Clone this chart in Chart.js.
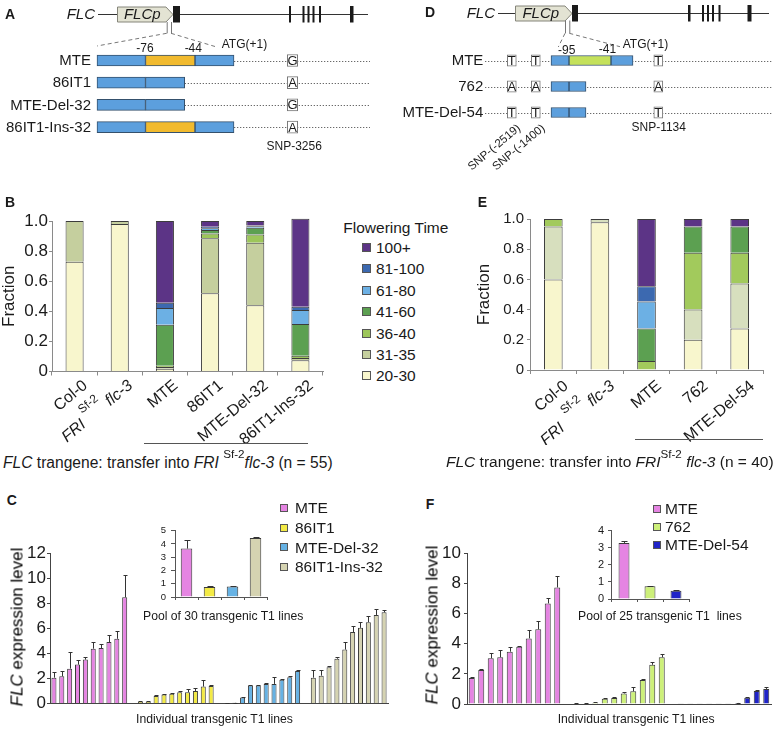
<!DOCTYPE html>
<html>
<head>
<meta charset="utf-8">
<script src="https://cdn.jsdelivr.net/npm/chart.js@4.4.1/dist/chart.umd.min.js"></script>
<style>
  html, body { margin:0; padding:0; background:#fff; }
  body { position:relative; width:777px; height:742px; overflow:hidden; font-family:"Liberation Sans", Arial, Helvetica, sans-serif; color:#1a1a1a; }
  canvas { position:absolute; }
  .t { position:absolute; white-space:nowrap; line-height:1; }
  .t sup { font-size:0.75em; vertical-align:baseline; position:relative; }
</style>
</head>
<body>
<canvas id="cvA" width="390" height="155" style="left:0;top:0"></canvas>
<canvas id="cvD" width="392" height="180" style="left:385px;top:0"></canvas>
<canvas id="cvB" width="336" height="250" style="left:0;top:195px"></canvas>
<canvas id="cvE" width="307" height="250" style="left:470px;top:195px"></canvas>
<canvas id="cvC" width="390" height="180" style="left:0;top:540px"></canvas>
<canvas id="cvCi" width="135" height="90" style="left:140px;top:520px"></canvas>
<canvas id="cvF" width="347" height="180" style="left:430px;top:540px"></canvas>
<canvas id="cvFi" width="125" height="90" style="left:575px;top:520px"></canvas>
<script>
const FAM = '"Liberation Sans", Arial, Helvetica, sans-serif';
const INK = '#1a1a1a';

/* ---------------- Panel A: constructs (schematic units) ---------------- */
const constructsA = ['MTE', '86IT1', 'MTE-Del-32', '86IT1-Ins-32'];
const segUpA   = [[97, 145.5], [97, 145.5], [97, 145.5], [97, 145.5]];
const segMidA  = [[145.5, 195], [145.5, 184.7], [145.5, 184.7], [145.5, 195]];
const midIsMteA = [true, false, false, true];
const segDownA = [[195, 234], null, null, [195, 234]];
const snp3256A = ['G', 'A', 'G', 'A'];
const snpPosA = [292.5];

/* ---------------- Panel D: constructs (schematic units) ---------------- */
const constructsD = ['MTE', '762', 'MTE-Del-54'];
const segUpD   = [[551, 569], [551, 569], [551, 569]];
const segMidD  = [[569, 611], [569, 586], [569, 586]];
const midIsMteD = [true, false, false];
const segDownD = [[611, 633], null, null];
const snpM2519D = ['T', 'A', 'T'];
const snpM1400D = ['T', 'A', 'T'];
const snp1134D  = ['T', 'A', 'T'];
const snpPosD = [511.8, 535.8, 658.3];

/* ---------------- Panel B: flowering time fractions ---------------- */
const ftClasses = ['20-30', '31-35', '36-40', '41-60', '61-80', '81-100', '100+'];
const categoriesB = ['Col-0', 'FRI Sf-2 flc-3', 'MTE', '86IT1', 'MTE-Del-32', '86IT1-Ins-32'];
const ft20_30B  = [0.73, 0.98, 0.018, 0.52, 0.44, 0.075];
const ft31_35B  = [0.27, 0.02, 0.012, 0.366, 0.415, 0.015];
const ft36_40B  = [0, 0, 0.009, 0.031, 0.055, 0.014];
const ft41_60B  = [0, 0, 0.272, 0.024, 0.045, 0.211];
const ft61_80B  = [0, 0, 0.111, 0.011, 0.01, 0.093];
const ft81_100B = [0, 0, 0.034, 0.009, 0.005, 0.022];
const ft100B    = [0, 0, 0.544, 0.039, 0.03, 0.585];

/* ---------------- Panel E: flowering time fractions ---------------- */
const categoriesE = ['Col-0', 'FRI Sf-2 flc-3', 'MTE', '762', 'MTE-Del-54'];
const ft20_30E  = [0.60, 0.978, 0, 0.20, 0.275];
const ft31_35E  = [0.35, 0.022, 0, 0.20, 0.298];
const ft36_40E  = [0.05, 0, 0.059, 0.377, 0.204];
const ft41_60E  = [0, 0, 0.216, 0.174, 0.174];
const ft61_80E  = [0, 0, 0.178, 0, 0];
const ft81_100E = [0, 0, 0.102, 0, 0];
const ft100E    = [0, 0, 0.445, 0.049, 0.049];

/* ---------------- Panel C: FLC expression ---------------- */
const seriesC = ['MTE', '86IT1', 'MTE-Del-32', '86IT1-Ins-32'];
const mteC    = [2.06, 2.17, 2.78, 3.1, 3.5, 4.37, 4.42, 4.9, 5.16, 8.47];
const mteErrC = [0.45, 0.45, 1.3, 0.4, 0.2, 0.5, 0.3, 0.55, 0.65, 1.75];
const it86C    = [0.13, 0.13, 0.6, 0.71, 0.77, 0.9, 0.9, 1.0, 1.35, 1.4];
const it86ErrC = [0.03, 0.03, 0.05, 0.05, 0.05, 0.08, 0.28, 0.2, 0.5, 0.1];
const del32C    = [0.02, 0.05, 0.48, 1.43, 1.43, 1.56, 1.56, 1.9, 2.1, 2.6];
const del32ErrC = [0.01, 0.02, 0.05, 0.05, 0.05, 0.05, 0.55, 0.08, 0.08, 0.1];
const ins32C    = [2.06, 2.22, 2.9, 3.57, 4.3, 5.7, 6.03, 6.48, 7.06, 7.27];
const ins32ErrC = [0.65, 0.42, 0.1, 0.1, 0.6, 0.45, 0.45, 0.48, 0.48, 0.2];
const poolC    = [3.65, 0.75, 0.8, 4.45];
const poolErrC = [0.65, 0.05, 0.03, 0.1];

/* ---------------- Panel F: FLC expression ---------------- */
const seriesF = ['MTE', '762', 'MTE-Del-54'];
const mteF    = [1.72, 2.25, 3.03, 3.1, 3.47, 3.8, 4.35, 4.95, 6.67, 7.73];
const mteErrF = [0.04, 0.04, 0.37, 0.48, 0.29, 0.07, 0.55, 0.57, 0.33, 0.77];
const l762F    = [0.04, 0.04, 0.09, 0.35, 0.4, 0.7, 0.84, 1.59, 2.6, 3.1];
const l762ErrF = [0.01, 0.01, 0.02, 0.03, 0.04, 0.1, 0.31, 0.07, 0.16, 0.2];
const del54F    = [0.02, 0.02, 0.02, 0.02, 0.02, 0.02, 0.07, 0.42, 0.86, 1.0];
const del54ErrF = [0, 0, 0, 0, 0, 0, 0.01, 0.03, 0.04, 0.1];
const poolF    = [3.28, 0.75, 0.48];
const poolErrF = [0.12, 0.04, 0.02];

/* ---------------- colours ---------------- */
const BLUE = '#5c9fdd', ORANGE = '#f1ba2e', LIME = '#c4e15b', EDGE = '#34506c';
const ftColorsB = ['#f8f6cd', '#c5cf9e', '#9dc65a', '#5ca051', '#6cb0e4', '#3c69b0', '#5c3486'];
const ftColorsE = ['#f8f6cd', '#d7dfbe', '#a2ca5c', '#5ca051', '#6cb0e4', '#3c69b0', '#5c3486'];
const colorsC = ['#e584e2', '#f3ea45', '#66b2e4', '#d5d3b1'];
const colorsF = ['#e584e2', '#cdf07a', '#2024c8'];

Chart.defaults.font.family = FAM;
Chart.defaults.color = INK;
const common = { responsive: false, animation: false, devicePixelRatio: 1, events: [] };

/* ---------------- helpers ---------------- */
function drawRich(ctx, parts, x, y, angDeg, size) {
  ctx.save();
  ctx.translate(x, y);
  ctx.rotate(angDeg * Math.PI / 180);
  ctx.fillStyle = INK;
  ctx.textBaseline = 'alphabetic';
  ctx.textAlign = 'left';
  const fonts = parts.map(p => (p.it ? 'italic ' : '') + (p.sup ? size * 0.75 : size) + 'px ' + FAM);
  const widths = parts.map((p, k) => { ctx.font = fonts[k]; return ctx.measureText(p.t).width; });
  let cx = -widths.reduce((a, b) => a + b, 0);
  parts.forEach((p, k) => {
    ctx.font = fonts[k];
    ctx.fillText(p.t, cx, p.sup ? -size * 0.42 : size * 0.36);
    cx += widths[k];
  });
  ctx.restore();
}

function labelParts(lab, gap) {
  if (lab.startsWith('FRI')) {
    const w = lab.split(' ');
    return [{ t: w[0], it: true }, { t: gap }, { t: w[1], sup: true }, { t: ' ' }, { t: w[2], it: true }];
  }
  return [{ t: lab }];
}

function richTicks(dx, dy, gap) {
  return {
    id: 'richTicks',
    afterDraw(chart) {
      const xs = chart.scales.x, ys = chart.scales.y;
      chart.data.labels.forEach((lab, i) => {
        drawRich(chart.ctx, labelParts(lab, gap), xs.getPixelForValue(i) + dx, ys.bottom + dy, -40, 16);
      });
    }
  };
}

function errorBars(cap) {
  return {
    id: 'errorBars',
    afterDatasetsDraw(chart) {
      const ctx = chart.ctx, ys = chart.scales.y;
      ctx.save();
      ctx.strokeStyle = '#333';
      ctx.lineWidth = 1;
      chart.data.datasets.forEach((ds, i) => {
        if (!ds.errors) return;
        chart.getDatasetMeta(i).data.forEach((el, j) => {
          const v = ds.data[j], e = ds.errors[j];
          if (v == null || e == null || e <= 0) return;
          const yT = Math.round(ys.getPixelForValue(v + e)) + 0.5;
          const xc = Math.round(el.x) + 0.5;
          ctx.beginPath();
          ctx.moveTo(xc, el.y);
          ctx.lineTo(xc, yT);
          ctx.moveTo(xc - cap, yT);
          ctx.lineTo(xc + cap, yT);
          ctx.stroke();
        });
      });
      ctx.restore();
    }
  };
}

function makeDiagram(cfg) {
  return {
    id: 'diagram',
    beforeDatasetsDraw(chart) {
      const ctx = chart.ctx, xs = chart.scales.x, ys = chart.scales.y;
      ctx.save();
      ctx.strokeStyle = '#6a6a6a';
      ctx.lineWidth = 1;
      ctx.setLineDash([1.3, 1.7]);
      chart.data.labels.forEach((r, i) => {
        const y = Math.round(ys.getPixelForValue(i)) + 0.5;
        ctx.beginPath();
        ctx.moveTo(xs.getPixelForValue(cfg.dotStart[i]), y);
        ctx.lineTo(xs.getPixelForValue(cfg.dotEnd), y);
        ctx.stroke();
      });
      ctx.restore();
    },
    afterDraw(chart) {
      const ctx = chart.ctx, xs = chart.scales.x, ys = chart.scales.y;
      const X = v => xs.getPixelForValue(v);
      ctx.save();
      ctx.textBaseline = 'middle';
      ctx.fillStyle = INK;
      ctx.font = '15px ' + FAM;
      ctx.textAlign = 'right';
      chart.data.labels.forEach((r, i) => ctx.fillText(r, X(cfg.labelRight), ys.getPixelForValue(i) + 0.5));
      ctx.font = '13px ' + FAM;
      ctx.textAlign = 'center';
      chart.data.datasets.forEach((ds, di) => {
        if (!ds.snp) return;
        chart.getDatasetMeta(di).data.forEach((el, j) => ctx.fillText(ds.snp[j], (el.x + el.base) / 2, el.y + 1));
      });
      // gene model
      const g = cfg.gene, gy = g.y;
      ctx.strokeStyle = '#333';
      ctx.lineWidth = 1;
      ctx.beginPath();
      ctx.moveTo(X(g.line[0]), gy + 0.5);
      ctx.lineTo(X(g.line[1]), gy + 0.5);
      ctx.stroke();
      const p0 = X(g.prom[0]) + 0.5, p1 = X(g.prom[1]);
      ctx.beginPath();
      ctx.moveTo(p0, gy - 7);
      ctx.lineTo(p1 - 7, gy - 7);
      ctx.lineTo(p1, gy + 0.5);
      ctx.lineTo(p1 - 7, gy + 8);
      ctx.lineTo(p0, gy + 8);
      ctx.closePath();
      ctx.fillStyle = '#e3e3d3';
      ctx.fill();
      ctx.strokeStyle = '#85857a';
      ctx.stroke();
      ctx.fillStyle = '#1a1a1a';
      g.exons.forEach(([a, b]) => ctx.fillRect(X(a), gy - 8, X(b) - X(a), 16.5));
      ctx.font = 'italic 15px ' + FAM;
      ctx.textAlign = 'center';
      ctx.fillText('FLCp', (p0 + p1) / 2 - 3, gy + 1);
      ctx.textAlign = 'right';
      ctx.fillText('FLC', X(g.line[0]) - 3, gy + 1);
      // zoom lines
      const z = cfg.zoom;
      ctx.strokeStyle = '#777';
      ctx.beginPath();
      ctx.moveTo(X(z.x1) + 0.5, z.y1); ctx.lineTo(X(z.x1) + 0.5, z.y2);
      ctx.moveTo(X(z.x2) + 0.5, z.y1); ctx.lineTo(X(z.x2) + 0.5, z.y2);
      ctx.stroke();
      ctx.setLineDash([4, 3]);
      ctx.beginPath();
      ctx.moveTo(X(z.x1), z.y2); ctx.lineTo(X(z.l[0]), z.l[1]);
      ctx.moveTo(X(z.x2), z.y2); ctx.lineTo(X(z.r[0]), z.r[1]);
      ctx.stroke();
      ctx.setLineDash([]);
      ctx.fillStyle = INK;
      cfg.texts.forEach(t => {
        ctx.font = t.size + 'px ' + FAM;
        ctx.textAlign = t.align;
        ctx.fillText(t.t, X(t.x), t.y);
      });
      (cfg.rot || []).forEach(t => drawRich(ctx, [{ t: t.t }], X(t.x), t.y, -40, 11.5));
      ctx.restore();
    }
  };
}

function diagramChart(id, rows, segs, mteFlags, mteColor, snpSets, snpPos, cfg) {
  const datasets = [];
  segs.forEach((seg, k) => datasets.push({
    data: seg,
    backgroundColor: k === 1 ? mteFlags.map(f => f ? mteColor : BLUE) : BLUE,
    borderColor: EDGE, borderWidth: 1, borderSkipped: false,
    barThickness: cfg.thick, grouped: false
  }));
  snpSets.forEach((letters, k) => datasets.push({
    data: letters.map(() => [snpPos[k] - cfg.snpW / 2, snpPos[k] + cfg.snpW / 2]),
    snp: letters,
    backgroundColor: '#ffffff', borderColor: '#777', borderWidth: 1, borderSkipped: false,
    barThickness: cfg.snpH, grouped: false
  }));
  return new Chart(document.getElementById(id), {
    type: 'bar',
    data: { labels: rows, datasets },
    options: Object.assign({}, common, {
      indexAxis: 'y',
      layout: { padding: { left: 0, right: 0, top: cfg.top, bottom: cfg.bottom } },
      plugins: { legend: { display: false }, tooltip: { enabled: false } },
      scales: {
        x: { type: 'linear', min: cfg.xmin, max: cfg.xmax, display: false },
        y: { display: false }
      }
    }),
    plugins: [makeDiagram(cfg)]
  });
}

function stackedChart(id, labels, series, colors, g) {
  return new Chart(document.getElementById(id), {
    type: 'bar',
    data: {
      labels,
      datasets: series.map((d, k) => ({
        label: ftClasses[k], data: d, backgroundColor: colors[k],
        borderColor: '#3c3c3c', borderWidth: 1,
        barPercentage: 0.4, categoryPercentage: 1, clip: false
      }))
    },
    options: Object.assign({}, common, {
      layout: { padding: { left: 0, right: g.right, top: g.top, bottom: 0 } },
      plugins: { legend: { display: false }, tooltip: { enabled: false } },
      scales: {
        x: {
          stacked: true,
          grid: { display: true, drawOnChartArea: false, offset: true, tickLength: 4, color: '#8a8a8a' },
          border: { color: '#8a8a8a' },
          ticks: { display: false },
          afterFit: s => { s.height = g.xh; }
        },
        y: {
          stacked: true, min: 0, max: 1,
          ticks: { stepSize: 0.2, autoSkip: false, font: { size: g.tick }, padding: g.pad, color: INK,
                   callback: v => v === 0 ? '0' : Number(v).toFixed(1) },
          grid: { drawOnChartArea: false, tickLength: 3, color: '#8a8a8a' },
          border: { color: '#8a8a8a' },
          title: { display: true, text: 'Fraction', color: INK, font: { size: 17, lineHeight: 1 }, padding: { top: g.tpad, bottom: 0 } },
          afterFit: s => { s.width = g.yw; }
        }
      }
    }),
    plugins: [richTicks(g.dx, g.dy, g.gap)]
  });
}

function groupedChart(id, groups, errs, colors, names, g) {
  const n = groups.reduce((a, gr) => a + gr.length, 0) + groups.length - 1;
  let pos = 0;
  const datasets = groups.map((gr, k) => {
    const d = new Array(n).fill(null), e = new Array(n).fill(null);
    gr.forEach((v, j) => { d[pos + j] = v; e[pos + j] = errs[k][j]; });
    pos += gr.length + 1;
    return { label: names[k], data: d, errors: e, backgroundColor: colors[k], borderColor: '#3a3a3a',
             borderWidth: 1, barPercentage: g.bp, categoryPercentage: 1, grouped: false };
  });
  return new Chart(document.getElementById(id), {
    type: 'bar',
    data: { labels: new Array(n).fill(''), datasets },
    options: Object.assign({}, common, {
      layout: { padding: { left: 0, right: g.right, top: g.top, bottom: 0 } },
      plugins: { legend: { display: false }, tooltip: { enabled: false } },
      scales: {
        x: { grid: { display: false }, border: { color: '#444' }, ticks: { display: false },
             afterFit: s => { s.height = g.xh; } },
        y: { min: 0, max: g.ymax,
             ticks: { stepSize: g.step, autoSkip: false, font: { size: 17 }, padding: g.pad, color: INK },
             grid: { drawOnChartArea: false, tickLength: 3, color: '#444' },
             border: { color: '#444' },
             afterFit: s => { s.width = g.yw; } }
      }
    }),
    plugins: [errorBars(2)]
  });
}

function insetChart(id, labels, vals, errs, colors, g) {
  return new Chart(document.getElementById(id), {
    type: 'bar',
    data: { labels, datasets: [{ data: vals, errors: errs, backgroundColor: colors, borderColor: '#3a3a3a',
                                 borderWidth: 1, barPercentage: g.bp, categoryPercentage: 1 }] },
    options: Object.assign({}, common, {
      layout: { padding: { left: 0, right: g.right, top: g.top, bottom: 0 } },
      plugins: { legend: { display: false }, tooltip: { enabled: false } },
      scales: {
        x: { grid: { display: true, drawOnChartArea: false, offset: true, tickLength: 3, color: '#555' },
             border: { color: '#555' }, ticks: { display: false },
             afterFit: s => { s.height = g.xh; } },
        y: { min: 0, max: g.ymax,
             ticks: { stepSize: 1, autoSkip: false, font: { size: g.font }, padding: g.pad, color: INK },
             grid: { drawOnChartArea: false, tickLength: g.tl, color: '#555' },
             border: { color: '#555' },
             afterFit: s => { s.width = g.yw; } }
      }
    }),
    plugins: [errorBars(3)]
  });
}

/* ---------------- build charts ---------------- */
diagramChart('cvA', constructsA, [segUpA, segMidA, segDownA], midIsMteA, ORANGE, [snp3256A], snpPosA, {
  xmin: 0, xmax: 390, top: 49.4, bottom: 16.8, thick: 11, snpW: 10.4, snpH: 12,
  labelRight: 91, dotStart: [234, 184.7, 184.7, 234], dotEnd: 370,
  gene: { y: 14, line: [98, 368], prom: [117, 173],
          exons: [[173, 180], [289, 291], [302.5, 304.5], [307.5, 309.5], [312.5, 314.5], [319, 321], [350, 353.5]] },
  zoom: { x1: 166.7, x2: 171, y1: 22, y2: 33.3, l: [97, 46], r: [215, 46.5] },
  texts: [
    { t: '-76', x: 145, y: 49, size: 12, align: 'center' },
    { t: '-44', x: 193.3, y: 49, size: 12, align: 'center' },
    { t: 'ATG(+1)', x: 221.7, y: 45, size: 12, align: 'left' },
    { t: 'SNP-3256', x: 294.2, y: 146.5, size: 12, align: 'center' }
  ]
});

diagramChart('cvD', constructsD, [segUpD, segMidD, segDownD], midIsMteD, LIME, [snpM2519D, snpM1400D, snp1134D], snpPosD, {
  xmin: 385, xmax: 777, top: 47.5, bottom: 54.5, thick: 10, snpW: 9, snpH: 11.5,
  labelRight: 483.3, dotStart: [485, 485, 485], dotEnd: 771.7,
  gene: { y: 13, line: [498, 769], prom: [515, 572],
          exons: [[572, 578], [688, 690.5], [702, 704], [707, 709], [712, 714], [718.5, 720.5], [747.5, 751.5]] },
  zoom: { x1: 565, x2: 569.3, y1: 20.5, y2: 33.3, l: [558.3, 47], r: [620, 46.7] },
  texts: [
    { t: '-95', x: 566.7, y: 50.5, size: 12, align: 'center' },
    { t: '-41', x: 607.5, y: 50, size: 12, align: 'center' },
    { t: 'ATG(+1)', x: 622.7, y: 44.7, size: 12, align: 'left' },
    { t: 'SNP-1134', x: 658.7, y: 127.5, size: 12, align: 'center' }
  ],
  rot: [
    { t: 'SNP-(-2519)', x: 518.5, y: 126 },
    { t: 'SNP-(-1400)', x: 543, y: 126 }
  ]
});

stackedChart('cvB', categoriesB, [ft20_30B, ft31_35B, ft36_40B, ft41_60B, ft61_80B, ft81_100B, ft100B], ftColorsB,
  { right: 13, top: 26, xh: 73.5, yw: 52, tick: 17, pad: 1, tpad: 1, dx: 10, dy: 11, gap: ' ' });
stackedChart('cvE', categoriesE, [ft20_30E, ft31_35E, ft36_40E, ft41_60E, ft61_80E, ft81_100E, ft100E], ftColorsE,
  { right: 14, top: 24, xh: 75, yw: 60, tick: 15, pad: 3, tpad: 5.5, dx: 12, dy: 13, gap: '  ' });

groupedChart('cvC', [mteC, it86C, del32C, ins32C], [mteErrC, it86ErrC, del32ErrC, ins32ErrC], colorsC, seriesC,
  { right: 2, top: 13, xh: 16.5, yw: 50, ymax: 12, step: 2, pad: 1, bp: 0.64 });
insetChart('cvCi', seriesC, poolC, poolErrC, colorsC,
  { right: 8, top: 9, xh: 13, yw: 35, ymax: 5, font: 9.5, pad: 5, tl: 4, bp: 0.5 });

groupedChart('cvF', [mteF, l762F, del54F], [mteErrF, l762ErrF, del54ErrF], colorsF, seriesF,
  { right: 6, top: 13, xh: 16, yw: 37, ymax: 10, step: 2, pad: 3, bp: 0.63 });
insetChart('cvFi', seriesF, poolF, poolErrF, colorsF,
  { right: 11, top: 10.7, xh: 11, yw: 36, ymax: 4, font: 11, pad: 4, tl: 3, bp: 0.42 });

/* ---------------- HTML text: letters, legends, captions ---------------- */
function addText(html, left, top, size, extra) {
  const d = document.createElement('div');
  d.className = 't';
  d.innerHTML = html;
  d.style.left = left + 'px';
  d.style.top = top + 'px';
  d.style.fontSize = size + 'px';
  if (extra) Object.assign(d.style, extra);
  document.body.appendChild(d);
  return d;
}
function addBox(left, top, w, h, bg, border) {
  const d = document.createElement('div');
  d.style.cssText = `position:absolute;left:${left}px;top:${top}px;width:${w}px;height:${h}px;background:${bg};` +
    (border ? `border:1px solid ${border};box-sizing:border-box;` : '');
  document.body.appendChild(d);
}
function addLegend(items, colors, sqX, y0, dy, sq, textX, size) {
  items.forEach((it, k) => {
    const cy = y0 + k * dy;
    addBox(sqX, cy - sq / 2, sq, sq, colors[k], '#555');
    addText(it, textX, cy - size * 0.49, size);
  });
}

// panel letters
[['A', 5, 7.3], ['D', 425, 5.1], ['B', 5, 195.1], ['E', 477.7, 194.8], ['C', 6.7, 493.1], ['F', 425.7, 497.1]]
  .forEach(([t, x, y]) => addText(t, x, y, 14, { fontWeight: 'bold' }));

// legend B
addText('Flowering Time', 343.3, 219.9, 15.5);
addLegend(ftClasses.slice().reverse(), ftColorsB.slice().reverse(), 361.5, 247.5, 21.4, 9, 376, 15.5);

// captions B & E
addText('<i>FLC</i> trangene: transfer into <i>FRI</i> <sup style="top:-0.85em">Sf-2</sup><i>flc-3</i> (n = 55)', 3, 455, 15.6);
addBox(144, 443, 164, 1, '#555');
addText('<i>FLC</i> trangene: transfer into <i>FRI</i><sup style="top:-0.8em">Sf-2</sup> <i>flc-3</i> (n = 40)', 446, 454.4, 15.5);
addBox(635, 438.5, 128, 1, '#555');

// legends C & F
addLegend(seriesC, colorsC, 279.5, 508, 19.6, 8, 295, 15.5);
addLegend(seriesF, colorsF, 653, 509, 18, 8, 665, 15.5);

// inset captions & x titles
addText('Pool of 30 transgenic T1 lines', 143, 609.8, 12.2);
addText('Pool of 25 transgenic T1&nbsp; lines', 578, 609.5, 12.2);
addText('Individual transgenic T1 lines', 136, 712.7, 12.2);
addText('Individual transgenic T1 lines', 557.7, 713, 12.2);

// rotated y titles
addText('<i>FLC</i> expression level', 17, 627, 17, { transform: 'translate(-50%,-50%) rotate(-90deg)', color: '#000' });
addText('<i>FLC</i> expression level', 431.5, 625, 17, { transform: 'translate(-50%,-50%) rotate(-90deg)', color: '#000' });
</script>
</body>
</html>
